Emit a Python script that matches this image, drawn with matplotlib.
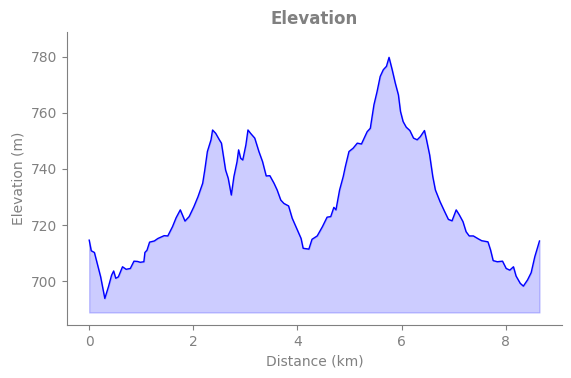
import numpy as np
import matplotlib as mpl
mpl.use('Agg')
import matplotlib.pyplot as plt

# distance (km) and elevation (m)
distance = [0.00, 0.04, 0.10, 0.17, 0.22, 0.30, 0.37, 0.43, 0.47, 0.51, 0.56, 0.64, 0.71, 0.79,
            0.86, 0.93, 0.98, 1.05, 1.07, 1.11, 1.16, 1.25, 1.32, 1.44, 1.51, 1.60, 1.67, 1.75,
            1.84, 1.92, 2.01, 2.09, 2.18, 2.22, 2.27, 2.34, 2.37, 2.43, 2.50, 2.54, 2.62, 2.67,
            2.73, 2.78, 2.84, 2.87, 2.91, 2.95, 3.01, 3.05, 3.10, 3.18, 3.26, 3.33, 3.40, 3.47,
            3.55, 3.61, 3.68, 3.74, 3.83, 3.90, 4.00, 4.07, 4.11, 4.22, 4.28, 4.38, 4.48, 4.57,
            4.64, 4.70, 4.74, 4.81, 4.88, 4.92, 4.99, 5.07, 5.15, 5.23, 5.34, 5.40, 5.47, 5.53,
            5.59, 5.65, 5.71, 5.76, 5.82, 5.88, 5.94, 5.98, 6.03, 6.09, 6.16, 6.23, 6.30, 6.36,
            6.44, 6.48, 6.54, 6.60, 6.65, 6.74, 6.83, 6.90, 6.97, 7.05, 7.11, 7.18, 7.24, 7.30,
            7.38, 7.48, 7.54, 7.66, 7.71, 7.76, 7.84, 7.94, 8.01, 8.08, 8.15, 8.20, 8.28, 8.34,
            8.42, 8.49, 8.56, 8.65]
elevation = [714.6, 710.8, 710.2, 705.1, 701.5, 693.8, 698.0, 702.1, 703.6, 701.0, 701.5, 705.1,
             704.2, 704.5, 707.1, 707.0, 706.7, 706.9, 710.2, 711.0, 713.9, 714.3, 715.2, 716.2,
             716.1, 719.4, 722.6, 725.4, 721.4, 723.0, 726.5, 730.1, 734.9, 739.6, 746.2, 750.4,
             753.9, 752.7, 750.4, 749.2, 739.6, 736.7, 730.7, 737.3, 742.6, 746.8, 743.8, 743.2,
             748.6, 753.9, 752.7, 751.0, 746.2, 742.6, 737.5, 737.6, 734.9, 732.5, 728.9, 727.7,
             726.8, 722.4, 718.2, 715.2, 711.7, 711.4, 714.9, 716.1, 719.4, 722.8, 723.0, 726.3,
             725.4, 732.5, 737.3, 740.8, 746.2, 747.4, 749.2, 748.9, 753.3, 754.5, 762.9, 767.6,
             773.0, 775.4, 776.6, 779.8, 775.4, 770.6, 766.4, 760.5, 756.9, 754.9, 753.7, 751.0,
             750.4, 751.5, 753.7, 750.4, 745.0, 737.3, 732.5, 728.3, 724.7, 722.0, 721.5, 725.4,
             723.6, 721.2, 717.6, 716.1, 716.1, 715.0, 714.4, 714.0, 711.1, 707.3, 706.9, 707.1,
             704.5, 703.9, 705.1, 701.8, 699.2, 698.2, 700.4, 703.0, 708.7, 714.3]

gray = '#808080'
x = np.array(distance)
y = np.array(elevation)
base = y.min() - 5

fig = plt.figure(figsize=(5.71, 3.78), dpi=100)
ax = fig.add_axes([0.117, 0.140, 0.867, 0.775])
ax.plot(x, y, color='blue', linewidth=1)
ax.fill_between(x, y, base, color='blue', alpha=0.2)

ax.set_xlim(-0.43, 9.08)
ax.set_ylim(684.3, 788.8)
ax.set_xticks([0, 2, 4, 6, 8])
ax.set_yticks([700, 720, 740, 760, 780])

ax.set_title('Elevation', color=gray, fontsize=12, fontweight='bold')
ax.set_xlabel('Distance (km)', color=gray, fontsize=10)
ax.set_ylabel('Elevation (m)', color=gray, fontsize=10)
ax.tick_params(colors=gray, labelsize=10)
for side in ['top', 'right']:
    ax.spines[side].set_visible(False)
for side in ['left', 'bottom']:
    ax.spines[side].set_color(gray)

plt.savefig('out.png', dpi=100)
plt.close()
